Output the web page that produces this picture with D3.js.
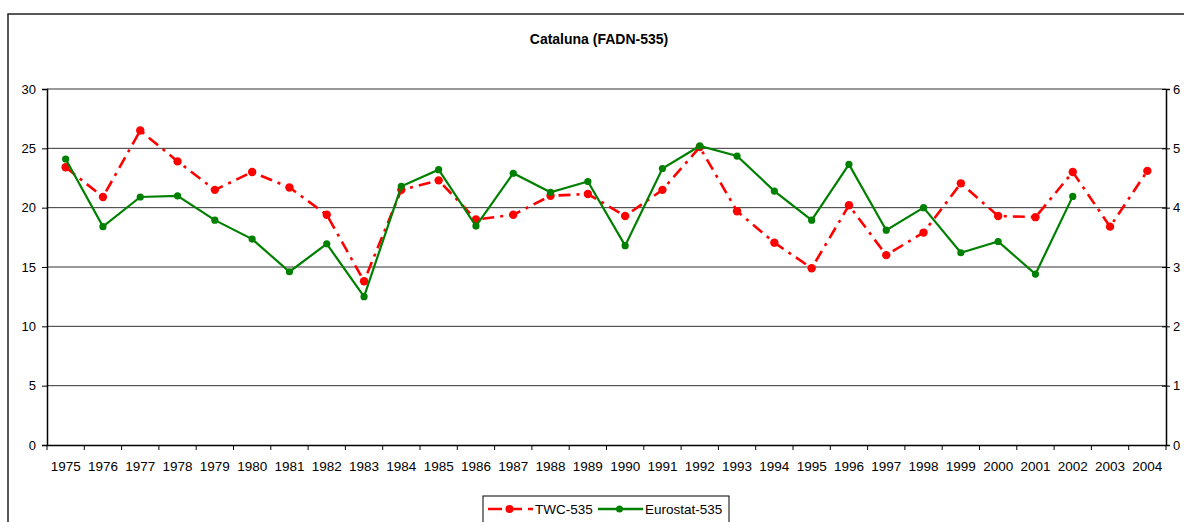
<!DOCTYPE html>
<html>
<head>
<meta charset="utf-8">
<script src="https://cdn.jsdelivr.net/npm/d3@7"></script>
<style>
  body { margin: 0; background: #fff; }
  svg { display: block; font-family: Arial, "Liberation Sans", sans-serif; }
</style>
</head>
<body>
<div id="chart"></div>
<script>
// years on the category axis
const years = ['1975','1976','1977','1978','1979','1980','1981','1982','1983','1984',
  '1985','1986','1987','1988','1989','1990','1991','1992','1993','1994',
  '1995','1996','1997','1998','1999','2000','2001','2002','2003','2004'];

// TWC-535 (red, dash-dot)
const twc = [23.4, 20.9, 26.5, 23.9, 21.5, 23.0, 21.7, 19.4, 13.8, 21.5,
  22.3, 19.0, 19.4, 21.0, 21.15, 19.3, 21.5, 25.1, 19.7, 17.05,
  14.9, 20.2, 16.0, 17.9, 22.05, 19.3, 19.2, 23.0, 18.4, 23.1];

// Eurostat-535 (green, solid) - no values for 2003, 2004
const eurostat = [24.1, 18.4, 20.9, 21.0, 18.95, 17.35, 14.6, 16.95, 12.5, 21.8,
  23.2, 18.45, 22.9, 21.3, 22.2, 16.8, 23.3, 25.2, 24.35, 21.4,
  18.95, 23.65, 18.1, 20.0, 16.2, 17.15, 14.4, 20.95, null, null];

const leftTicks = [0, 5, 10, 15, 20, 25, 30];
const rightTicks = [0, 1, 2, 3, 4, 5, 6];

const width = 1184, height = 522;
const margin = { top: 89, left: 47, right: 18, bottom: 77 };
const plotW = width - margin.left - margin.right;
const plotH = height - margin.top - margin.bottom;

const svg = d3.select('#chart').append('svg')
  .attr('width', width)
  .attr('height', height);

// outer chart border (runs off the right and bottom edge)
svg.append('rect')
  .attr('x', 8).attr('y', 14)
  .attr('width', 1200).attr('height', 540)
  .attr('fill', 'none')
  .attr('stroke', '#222')
  .attr('stroke-width', 1.5);

svg.append('text')
  .attr('x', 599).attr('y', 44)
  .attr('text-anchor', 'middle')
  .style('font-size', '14px')
  .style('font-weight', 'bold')
  .text('Cataluna (FADN-535)');

const chart = svg.append('g')
  .attr('transform', `translate(${margin.left},${margin.top})`);

const xScale = d3.scaleBand().domain(years).range([0, plotW]);
const yScale = d3.scaleLinear().domain([0, 30]).range([plotH, 0]);
const y2Scale = d3.scaleLinear().domain([0, 6]).range([plotH, 0]);

// gridlines
chart.append('g')
  .classed('gridline', true)
  .selectAll('line')
  .data(leftTicks.filter(d => d > 0))
  .enter()
  .append('line')
  .attr('x1', 0).attr('x2', plotW)
  .attr('y1', d => yScale(d)).attr('y2', d => yScale(d))
  .attr('stroke', '#333')
  .attr('stroke-width', 1);

// left axis
const yAxis = d3.axisLeft(yScale).tickValues(leftTicks).tickFormat(d3.format('d'))
  .tickSize(5).tickPadding(6);
const gy = chart.append('g').classed('y axis', true).call(yAxis);
gy.select('.domain').attr('stroke', '#000').attr('stroke-width', 1.5);
gy.selectAll('.tick line').attr('stroke', '#000');
gy.selectAll('text').style('font-size', '13px').attr('fill', '#000');

// right axis
const y2Axis = d3.axisRight(y2Scale).tickValues(rightTicks).tickFormat(d3.format('d'))
  .tickSize(4).tickPadding(3);
const gy2 = chart.append('g').classed('y2 axis', true)
  .attr('transform', `translate(${plotW},0)`)
  .call(y2Axis);
gy2.select('.domain').attr('stroke', '#000').attr('stroke-width', 1.5);
gy2.selectAll('.tick line').attr('stroke', '#000').attr('x1', -4);
gy2.selectAll('text').style('font-size', '13px').attr('fill', '#000');

// bottom axis with ticks between categories
const xAxis = d3.axisBottom(xScale).tickSize(0).tickPadding(16);
const gx = chart.append('g').classed('x axis', true)
  .attr('transform', `translate(0,${plotH})`)
  .call(xAxis);
gx.select('.domain').attr('stroke', '#000').attr('stroke-width', 1.5);
gx.selectAll('text').style('font-size', '13.5px').attr('fill', '#000');
gx.selectAll('.sep')
  .data(years.concat(['end']))
  .enter()
  .append('line')
  .classed('sep', true)
  .attr('x1', (d, i) => i * xScale.bandwidth())
  .attr('x2', (d, i) => i * xScale.bandwidth())
  .attr('y1', 0).attr('y2', 5)
  .attr('stroke', '#000');

const cx = d => xScale(d) + xScale.bandwidth() / 2;

function drawSeries(values, color, dash, lineW, r) {
  const pts = years.map((y, i) => ({ year: y, v: values[i] })).filter(d => d.v !== null);
  const line = d3.line().x(d => cx(d.year)).y(d => yScale(d.v));
  chart.append('path')
    .datum(pts)
    .attr('d', line)
    .attr('fill', 'none')
    .attr('stroke', color)
    .attr('stroke-width', lineW)
    .attr('stroke-dasharray', dash);
  chart.append('g').selectAll('circle')
    .data(pts)
    .enter()
    .append('circle')
    .attr('cx', d => cx(d.year))
    .attr('cy', d => yScale(d.v))
    .attr('r', r)
    .attr('fill', color);
}

drawSeries(twc, '#ff0000', '12,6,3,6', 2.6, 4.2);
drawSeries(eurostat, '#008000', null, 2.2, 3.6);

// legend
const legend = svg.append('g').attr('transform', 'translate(483,496)');
legend.append('rect')
  .attr('width', 246).attr('height', 40)
  .attr('fill', '#fff').attr('stroke', '#000');

const legendItems = [
  { name: 'TWC-535', color: '#ff0000', dash: '14,6', x: 5, w: 45, tx: 52 },
  { name: 'Eurostat-535', color: '#008000', dash: null, x: 115, w: 45, tx: 162 }
];
legendItems.forEach(it => {
  legend.append('line')
    .attr('x1', it.x).attr('x2', it.x + it.w)
    .attr('y1', 13).attr('y2', 13)
    .attr('stroke', it.color)
    .attr('stroke-width', 2.6)
    .attr('stroke-dasharray', it.dash);
  legend.append('circle')
    .attr('cx', it.x + it.w / 2 - 1).attr('cy', 13)
    .attr('r', it.color === '#ff0000' ? 4 : 3.5)
    .attr('fill', it.color);
  legend.append('text')
    .attr('x', it.tx).attr('y', 18)
    .style('font-size', '13.5px')
    .text(it.name);
});
</script>
</body>
</html>
